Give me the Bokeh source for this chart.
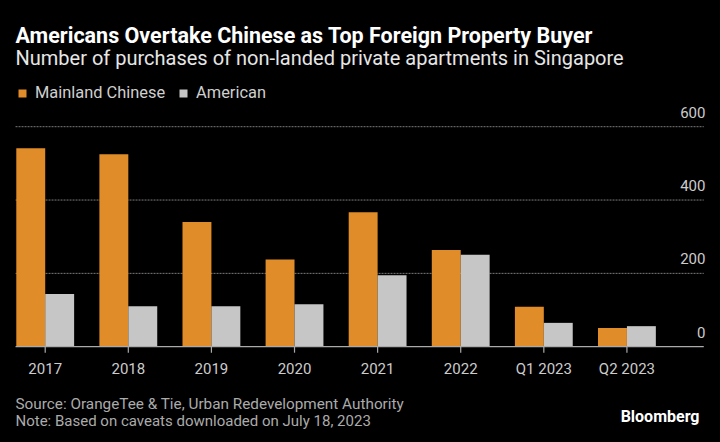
import numpy as np
from bokeh.plotting import figure
from bokeh.models import (Range1d, Label, Legend, LegendItem, GlobalInlineStyleSheet)
from bokeh.core.properties import value
from bokeh.embed import file_html
from bokeh.resources import INLINE

# ---- data ----
categories = ["2017", "2018", "2019", "2020", "2021", "2022", "Q1 2023", "Q2 2023"]
mainland_chinese = [541, 525, 340, 238, 367, 264, 109, 51]
american = [144, 110, 110, 116, 195, 251, 65, 56]
y_ticks = [0, 200, 400, 600]
y_tick_labels = ["0", "200", "400", "600"]
grid_ticks = [200, 400, 600]

FONT = "Roboto"
ORANGE = "#e08c28"
GREY = "#c6c6c6"
AXIS = "#aaaaaa"

idx = np.arange(len(categories))
bar_w = 0.348
# horizontal extent of the plotting area (category units)
x_left, x_right = -0.357, 7.925

p = figure(width=720, height=442, output_backend="svg", toolbar_location=None,
           x_range=Range1d(-0.538, 8.126), y_range=Range1d(-261.3, 944.2),
           x_axis_location=None, y_axis_location=None, title=None,
           background_fill_color="#000000", border_fill_color="#000000",
           outline_line_color=None,
           min_border_left=0, min_border_right=0, min_border_top=0, min_border_bottom=0)
p.stylesheets = [GlobalInlineStyleSheet(css="html, body { background: #000000; }")]
p.xgrid.visible = False
p.ygrid.visible = False

# dotted gridlines
p.segment(x0=[x_left] * len(grid_ticks), x1=[x_right] * len(grid_ticks),
          y0=grid_ticks, y1=grid_ticks, line_color="#7a7a7a", line_width=1,
          line_dash="2 1")

# bars
r1 = p.vbar(x=idx - bar_w / 2, top=mainland_chinese, width=bar_w, bottom=0,
            fill_color=ORANGE, line_color=None)
r2 = p.vbar(x=idx + bar_w / 2, top=american, width=bar_w, bottom=0,
            fill_color=GREY, line_color=None)

# x axis: baseline, ticks, labels
p.segment(x0=[x_left], x1=[x_right], y0=[0], y1=[0], line_color=AXIS, line_width=1.2)
p.ray(x=idx, y=[0] * len(idx), length=6, length_units="screen", angle=-np.pi / 2,
      line_color=AXIS, line_width=1.2)
p.text(x=idx, y=[0] * len(idx), text=categories, text_align="center",
       text_baseline="middle", y_offset=22,
       text_font=value(FONT), text_font_size="15px", text_color="#cccccc")

# y tick labels (right side, above gridlines), right edge at x=705 px
digit_w = 0.5625 * 15  # Roboto tabular digit advance at 15px
for t, lab in zip(y_ticks, y_tick_labels):
    p.add_layout(Label(x=705 - len(lab) * digit_w, y=t, x_units="screen", y_units="data",
                       y_offset=14.6, text=lab, text_align="left", text_baseline="middle",
                       text_font=FONT, text_font_size="15px", text_color="#cccccc"))

# legend
legend = Legend(items=[LegendItem(label="Mainland Chinese", renderers=[r1]),
                       LegendItem(label="American", renderers=[r2])],
                orientation="horizontal", location=(17, 340),
                glyph_width=10, glyph_height=10, label_standoff=8, spacing=13,
                padding=0, margin=0, background_fill_alpha=0, border_line_color=None,
                label_text_font=FONT, label_text_font_size="16.4px",
                label_text_color="#cfcfcf")
p.add_layout(legend)

# header / footer texts (screen units, from the bottom-left corner)
p.add_layout(Label(x=15, y=407, x_units="screen", y_units="screen",
                   text="Americans Overtake Chinese as Top Foreign Property Buyer",
                   text_font=FONT, text_font_style="bold", text_font_size="21.5px",
                   text_color="#ffffff", text_baseline="middle"))
p.add_layout(Label(x=15, y=384.8, x_units="screen", y_units="screen",
                   text="Number of purchases of non-landed private apartments in Singapore",
                   text_font=FONT, text_font_size="20px",
                   text_color="#e6e6e6", text_baseline="middle"))
p.add_layout(Label(x=15, y=38.9, x_units="screen", y_units="screen",
                   text="Source: OrangeTee & Tie, Urban Redevelopment Authority",
                   text_font=FONT, text_font_size="15.3px",
                   text_color="#ababab", text_baseline="middle"))
p.add_layout(Label(x=15, y=21.2, x_units="screen", y_units="screen",
                   text="Note: Based on caveats downloaded on July 18, 2023",
                   text_font=FONT, text_font_size="15px",
                   text_color="#ababab", text_baseline="middle"))
p.add_layout(Label(x=699, y=25.7, x_units="screen", y_units="screen",
                   text="Bloomberg", text_align="right",
                   text_font=FONT, text_font_style="bold", text_font_size="16px",
                   text_color="#ffffff", text_baseline="middle"))

open("out.html", "w").write(file_html(p, INLINE))
